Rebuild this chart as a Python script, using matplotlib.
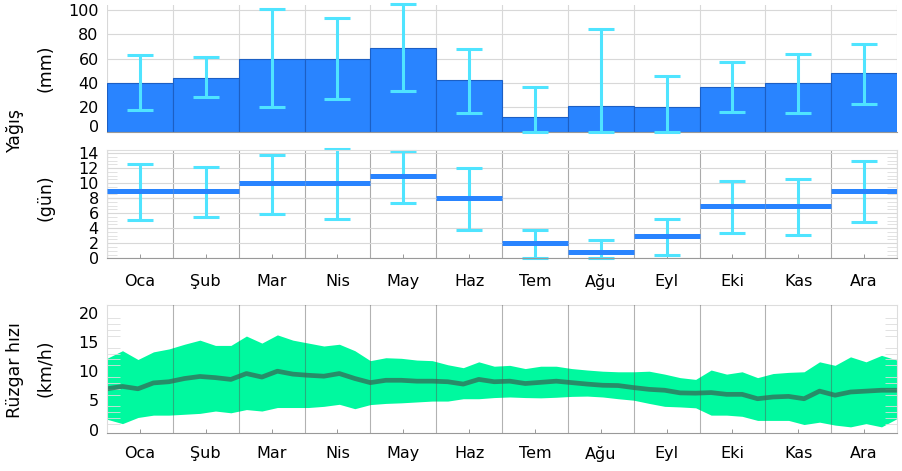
import numpy as np
import matplotlib.pyplot as plt

# aylar
months = ['Oca', 'Şub', 'Mar', 'Nis', 'May', 'Haz', 'Tem', 'Ağu', 'Eyl', 'Eki', 'Kas', 'Ara']

# yağış miktarı (mm): ortalama ve aralık
rain_mm = [40, 44, 60, 60, 69, 42, 12, 21, 20, 37, 40, 48]
rain_mm_lo = [18, 28, 20, 27, 33, 15, 0, 0, 0, 16, 15, 23]
rain_mm_hi = [63, 61, 101, 93, 105, 68, 37, 84, 46, 57, 64, 72]

# yağışlı gün sayısı
rain_days = [9, 9, 10, 10, 11, 8, 2, 0.8, 3, 7, 7, 9]
rain_days_lo = [5.1, 5.5, 5.9, 5.2, 7.3, 3.7, 0, 0, 0.4, 3.4, 3.1, 4.8]
rain_days_hi = [12.6, 12.1, 13.8, 14.5, 14.3, 12.0, 3.8, 2.4, 5.2, 10.3, 10.5, 12.9]

# haftalık rüzgar hızı (km/h)
wind_max = [12.2, 13.5, 12.0, 13.3, 13.8, 14.6, 15.3, 14.4, 14.4, 16.0, 14.8, 16.2, 15.3,
            14.8, 14.3, 14.6, 13.5, 11.8, 12.3, 12.2, 11.9, 11.8, 11.1, 10.6, 11.6, 10.85,
            11.0, 10.45, 10.85, 10.85, 10.45, 10.2, 10.0, 9.9, 9.9, 10.0, 9.5, 8.9, 8.6,
            10.2, 9.5, 9.9, 8.9, 9.6, 9.8, 9.9, 11.6, 11.0, 12.45, 11.6, 12.7, 11.9]
wind_mean = [7.0, 7.4, 7.0, 8.0, 8.2, 8.75, 9.1, 8.9, 8.6, 9.6, 9.0, 10.0, 9.5,
             9.3, 9.15, 9.6, 8.75, 8.05, 8.45, 8.45, 8.3, 8.3, 8.2, 7.8, 8.6, 8.2,
             8.3, 7.9, 8.1, 8.3, 8.05, 7.8, 7.6, 7.55, 7.2, 6.9, 6.75, 6.3, 6.25,
             6.35, 6.05, 6.05, 5.3, 5.6, 5.7, 5.3, 6.6, 5.9, 6.45, 6.6, 6.75, 6.75]
wind_min = [1.8, 1.05, 2.1, 2.5, 2.5, 2.65, 2.8, 3.2, 2.9, 3.45, 3.2, 3.8, 3.8,
            3.8, 4.0, 4.35, 3.6, 4.3, 4.5, 4.6, 4.75, 4.9, 4.9, 5.3, 5.3, 5.5,
            5.6, 5.5, 5.45, 5.55, 5.7, 5.75, 5.6, 5.3, 5.05, 4.5, 4.0, 3.9, 3.75,
            2.5, 2.5, 2.3, 1.6, 1.6, 1.6, 0.9, 1.3, 0.8, 0.5, 1.05, 0.5, 1.9]

BLUE = '#2984ff'
CYAN = '#4fe4ff'
GREEN = '#00f99f'
DARK = '#2f7a60'
FS = 11.5

x = np.arange(12) + 0.5
xw = np.linspace(0, 12, len(wind_mean))

fig = plt.figure(figsize=(9.02, 4.71), dpi=100)
L, W = 107 / 902, 790 / 902
ax1 = fig.add_axes([L, 1 - 132 / 471, W, 127 / 471])
ax2 = fig.add_axes([L, 1 - 258.3 / 471, W, 108.3 / 471])
ax3 = fig.add_axes([L, 1 - 433.3 / 471, W, 128.3 / 471])

for ax in (ax1, ax2, ax3):
    ax.set_xlim(0, 12)
    ax.set_xticks(np.arange(13))
    ax.set_xticklabels([])
    ax.set_xticks(x, minor=True)
    ax.tick_params(axis='x', which='major', length=0)
    ax.tick_params(axis='x', which='minor', length=3, direction='in', color='#888')
    ax.tick_params(axis='y', length=0, labelsize=FS, pad=6)
    for s in ax.spines.values():
        s.set_color('#dddddd')
    ax.spines['bottom'].set_color('#999999')

# yağış (mm)
ax1.bar(x, rain_mm, width=1, color=BLUE, edgecolor='#1c5fc4', lw=0.8, zorder=2)
ax1.errorbar(x, rain_mm,
             yerr=[np.array(rain_mm) - rain_mm_lo, np.array(rain_mm_hi) - rain_mm],
             fmt='none', ecolor=CYAN, elinewidth=2.2, capsize=9.5, capthick=2.2, zorder=3,
             clip_on=False)
ax1.set_ylim(-0.4, 104)
ax1.set_yticks([0, 20, 40, 60, 80, 100])
ax1.grid(True, color='#d8d8d8', lw=0.8, zorder=0)
ax1.spines['top'].set_visible(False)
ax1.spines['left'].set_visible(False)
ax1.spines['right'].set_visible(False)
ax1.get_yticklabels()[0].set_va('baseline')

# yağışlı günler
ax2.hlines(rain_days, x - 0.5, x + 0.5, color=BLUE, lw=3.6, zorder=3)
ax2.errorbar(x, rain_days,
             yerr=[np.array(rain_days) - rain_days_lo, np.array(rain_days_hi) - rain_days],
             fmt='none', ecolor=CYAN, elinewidth=2.2, capsize=9.5, capthick=2.2, zorder=2,
             clip_on=False)
ax2.set_ylim(0, 14.4)
ax2.set_yticks(np.arange(0, 15, 2))
ax2.set_yticks(np.arange(0, 14.5, 0.5), minor=True)
ax2.tick_params(axis='y', which='minor', length=7, direction='in', color='#dddddd',
                left=True, right=True)
ax2.grid(True, axis='y', color='#d8d8d8', lw=0.8, zorder=0)
ax2.grid(True, axis='x', color='#aaaaaa', lw=0.8, zorder=0)
ax2.axhline(8, color='#aaaaaa', lw=0.8, zorder=1)
ax2.set_xticklabels(months, minor=True, fontsize=FS)
ax2.tick_params(axis='x', which='minor', pad=11)

# rüzgar hızı
ax3.fill_between(xw, wind_min, wind_max, color=GREEN, lw=0, zorder=1)
ax3.plot(xw, wind_mean, color=DARK, lw=3.4, alpha=0.85, zorder=2)
for b in range(1, 12):
    ax3.axvline(b, color='#555555', lw=0.8, alpha=0.45, zorder=3)
ax3.set_ylim(-0.6, 21.3)
ax3.set_yticks([0, 5, 10, 15, 20])
ax3.set_yticks(np.arange(0, 21, 1), minor=True)
ax3.tick_params(axis='y', which='minor', length=9, direction='in', color='#dddddd',
                left=True, right=True)
ax3.set_xticklabels(months, minor=True, fontsize=FS)
ax3.tick_params(axis='x', which='minor', pad=9)

# eksen başlıkları
LFS = 12.5
fig.text(15 / 902, 1 - 130 / 471, 'Yağış', rotation=90, ha='center', va='center', fontsize=LFS)
fig.text(45 / 902, 1 - 68 / 471, '(mm)', rotation=90, ha='center', va='center', fontsize=LFS)
fig.text(45 / 902, 1 - 198 / 471, '(gün)', rotation=90, ha='center', va='center', fontsize=LFS)
fig.text(15 / 902, 1 - 370 / 471, 'Rüzgar hızı', rotation=90, ha='center', va='center', fontsize=LFS)
fig.text(45 / 902, 1 - 368 / 471, '(km/h)', rotation=90, ha='center', va='center', fontsize=LFS)

fig.savefig('out.png', dpi=100)
